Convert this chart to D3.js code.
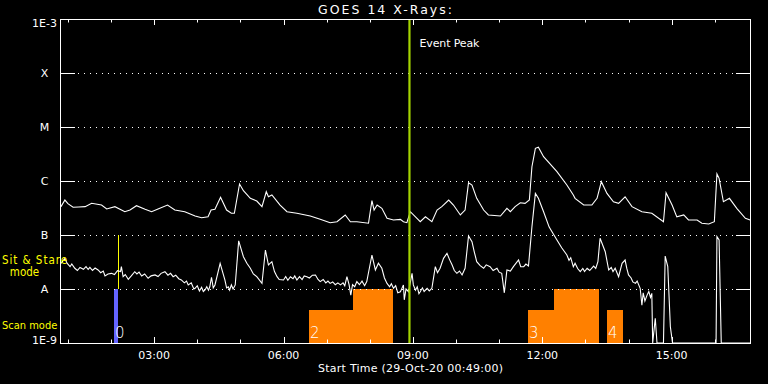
<!DOCTYPE html>
<html><head><meta charset="utf-8">
<script src="https://cdn.jsdelivr.net/npm/d3@7"></script>
<style>
body{margin:0;background:#000;}
svg{display:block;background:#000;}
text{font-family:"DejaVu Sans",sans-serif;fill:#fff;}
</style></head>
<body><svg id="chart" width="768" height="384"></svg>
<script>
// ---------- data ----------
const dayUTC = [2020, 9, 29];           // 29-Oct-20
const startHour = 0 + 49/60;            // 00:49
const endHour = startHour + 16;         // 16:49
const titleText = "GOES 14 X-Rays:";
const xAxisTitle = "Start Time (29-Oct-20 00:49:00)";
const xTickLabels = ["03:00","06:00","09:00","12:00","15:00"];
const yTickValues = [1e-9,1e-8,1e-7,1e-6,1e-5,1e-4,1e-3];
const yTickLabels = ["1E-9","A","B","C","M","X","1E-3"];
const eventPeakHour = 8.92;
const eventPeakLabel = "Event Peak";
const modeLabels = ["Sit & Stare", "mode", "Scan mode"];

// long channel (1-8 A): [hour of day UT, flux W/m^2]
const longChannel = [
[0.84,3.35e-7],[0.93,4.44e-7],[1.00,3.80e-7],[1.12,3.26e-7],[1.25,3.30e-7],[1.40,3.35e-7],[1.55,3.86e-7],[1.78,3.59e-7],[1.90,3.03e-7],
[2.09,3.35e-7],[2.32,2.70e-7],[2.44,2.90e-7],[2.59,3.49e-7],[2.79,2.99e-7],[2.94,2.70e-7],[3.09,3.03e-7],
[3.31,3.59e-7],[3.48,2.90e-7],[3.71,2.70e-7],[3.95,2.25e-7],[4.10,2.09e-7],[4.25,2.17e-7],[4.32,2.90e-7],
[4.41,2.99e-7],[4.54,4.98e-7],[4.68,2.90e-7],[4.79,2.52e-7],[4.86,2.52e-7],[4.98,8.79e-7],[5.07,6.61e-7],
[5.23,4.78e-7],[5.38,4.26e-7],[5.50,3.35e-7],[5.60,6.33e-7],[5.65,5.11e-7],[5.73,5.50e-7],[5.92,3.59e-7],
[6.08,2.70e-7],[6.31,2.52e-7],[6.62,2.25e-7],[6.85,1.95e-7],[7.08,1.69e-7],[7.24,1.76e-7],[7.43,2.35e-7],
[7.55,1.76e-7],[7.70,1.76e-7],[7.97,1.65e-7],[8.05,4.32e-7],[8.10,2.90e-7],[8.17,3.59e-7],[8.28,3.12e-7],
[8.40,2.04e-7],[8.55,1.90e-7],[8.71,1.95e-7],[8.78,1.76e-7],[8.86,1.69e-7],[8.94,2.70e-7],[9.17,1.76e-7],
[9.29,2.17e-7],[9.44,1.76e-7],[9.56,2.90e-7],[9.67,3.35e-7],[9.83,4.44e-7],[9.94,3.59e-7],[10.10,2.35e-7],
[10.21,2.90e-7],[10.29,9.30e-7],[10.37,8.42e-7],[10.48,4.78e-7],[10.64,2.90e-7],[10.75,2.35e-7],[11.03,2.25e-7],
[11.18,3.12e-7],[11.26,2.70e-7],[11.37,3.35e-7],[11.49,3.96e-7],[11.60,3.86e-7],[11.70,4.44e-7],[11.76,1.84e-6],
[11.84,4.03e-6],[11.91,4.21e-6],[12.03,2.82e-6],[12.34,1.49e-6],[12.57,8.42e-7],[12.72,5.50e-7],[12.76,4.78e-7],
[12.96,3.59e-7],[13.15,3.59e-7],[13.27,4.78e-7],[13.37,9.70e-7],[13.50,5.90e-7],[13.65,4.13e-7],[13.77,3.86e-7],
[13.92,5.11e-7],[14.08,3.35e-7],[14.31,2.70e-7],[14.54,2.52e-7],[14.81,1.76e-7],[14.87,6.08e-7],[15.01,3.59e-7],
[15.12,2.17e-7],[15.28,2.35e-7],[15.39,1.90e-7],[15.59,1.90e-7],[15.70,1.65e-7],[15.86,1.60e-7],[15.99,1.76e-7],
[16.05,1.35e-6],[16.10,1.12e-6],[16.20,4.13e-7],[16.34,4.78e-7],[16.51,3.12e-7],[16.71,2.04e-7],[16.82,1.90e-7]
];

// short channel (0.5-4 A): [hour of day UT, flux W/m^2]
const shortChannel = [
[0.84,2.99e-8],[0.93,3.70e-8],[0.98,3.00e-8],[1.05,2.59e-8],[1.09,2.90e-8],[1.16,2.42e-8],[1.22,2.20e-8],
[1.28,2.50e-8],[1.36,2.32e-8],[1.42,2.60e-8],[1.47,2.30e-8],[1.51,2.52e-8],[1.57,2.20e-8],[1.63,2.45e-8],
[1.70,2.25e-8],[1.76,2.00e-8],[1.82,2.15e-8],[1.86,1.74e-8],[1.93,1.90e-8],[2.01,1.95e-8],[2.08,1.85e-8],
[2.15,2.18e-8],[2.22,2.10e-8],[2.24,2.59e-8],[2.28,1.69e-8],[2.33,1.85e-8],[2.40,1.51e-8],[2.47,1.75e-8],
[2.55,2.09e-8],[2.60,1.90e-8],[2.65,2.05e-8],[2.71,1.74e-8],[2.78,1.90e-8],[2.86,1.58e-8],[2.93,1.75e-8],
[3.02,1.82e-8],[3.09,1.70e-8],[3.16,1.95e-8],[3.25,2.09e-8],[3.32,1.80e-8],[3.38,1.95e-8],[3.44,1.69e-8],
[3.50,1.80e-8],[3.57,1.55e-8],[3.63,1.47e-8],[3.70,1.30e-8],[3.75,1.40e-8],
[3.79,1.19e-8],[3.86,1.30e-8],[3.92,1.00e-8],[3.95,1.03e-8],[4.00,1.15e-8],[4.05,0.92e-8],[4.10,1.08e-8],
[4.14,0.90e-8],[4.18,0.96e-8],[4.22,1.10e-8],[4.26,0.95e-8],[4.29,1.10e-8],[4.33,1.65e-8],[4.37,1.05e-8],[4.41,1.19e-8],[4.53,2.99e-8],[4.64,1.47e-8],
[4.68,1.05e-8],[4.72,1.10e-8],[4.75,0.95e-8],[4.79,1.19e-8],[4.83,1.00e-8],[4.88,1.19e-8],[4.96,7.80e-8],[5.07,3.96e-8],[5.15,3.00e-8],[5.23,2.42e-8],[5.30,1.90e-8],[5.38,1.69e-8],
[5.50,1.27e-8],[5.58,5.27e-8],[5.65,2.78e-8],[5.73,3.20e-8],[5.79,2.10e-8],[5.85,1.69e-8],[5.90,1.50e-8],[6.00,1.47e-8],[6.05,1.70e-8],[6.10,1.45e-8],[6.16,1.69e-8],
[6.22,1.55e-8],[6.26,1.75e-8],[6.31,1.47e-8],[6.37,1.70e-8],[6.43,1.50e-8],[6.48,1.75e-8],[6.54,1.69e-8],[6.60,1.60e-8],[6.67,1.80e-8],[6.74,1.82e-8],[6.80,1.50e-8],[6.85,1.37e-8],
[6.92,1.50e-8],[6.98,1.30e-8],[7.03,1.40e-8],[7.08,1.27e-8],[7.14,1.35e-8],[7.20,1.20e-8],[7.26,1.30e-8],[7.32,1.19e-8],[7.38,1.30e-8],[7.42,1.15e-8],[7.47,1.69e-8],
[7.52,1.20e-8],[7.56,0.77e-8],[7.60,1.20e-8],[7.65,1.10e-8],[7.70,1.37e-8],[7.76,1.20e-8],[7.82,1.40e-8],[7.88,1.15e-8],[7.93,1.37e-8],[8.05,4.26e-8],[8.13,2.25e-8],[8.20,3.00e-8],[8.28,2.42e-8],[8.34,1.60e-8],[8.40,1.27e-8],
[8.46,1.10e-8],[8.50,1.25e-8],[8.55,1.03e-8],[8.60,1.15e-8],[8.65,0.85e-8],[8.71,0.89e-8],[8.75,1.05e-8],[8.78,1.19e-8],[8.80,0.63e-8],[8.84,1.00e-8],[8.90,0.89e-8],[8.98,1.95e-8],[9.01,1.19e-8],
[9.06,0.95e-8],[9.10,1.10e-8],[9.14,0.82e-8],[9.17,0.89e-8],[9.22,1.05e-8],[9.26,0.90e-8],[9.33,1.03e-8],[9.38,0.92e-8],[9.44,1.03e-8],[9.52,2.59e-8],[9.57,2.00e-8],[9.63,2.42e-8],[9.71,3.70e-8],[9.79,4.58e-8],
[9.85,3.50e-8],[9.91,2.78e-8],[9.96,2.20e-8],[10.02,1.95e-8],[10.08,2.15e-8],[10.14,1.82e-8],[10.21,2.42e-8],[10.29,9.60e-8],[10.37,7.50e-8],[10.42,5.00e-8],[10.48,3.20e-8],
[10.56,2.70e-8],[10.64,2.42e-8],[10.70,2.80e-8],[10.79,2.59e-8],[10.86,2.20e-8],[10.95,2.42e-8],[11.00,2.05e-8],[11.06,1.95e-8],[11.12,0.85e-8],[11.18,2.25e-8],[11.26,2.15e-8],[11.33,2.59e-8],
[11.45,3.44e-8],[11.50,2.60e-8],[11.57,2.59e-8],[11.62,2.90e-8],[11.68,2.66e-8],[11.76,1.42e-7],[11.84,5.90e-7],[11.91,4.78e-7],[12.03,2.70e-7],
[12.16,1.40e-7],[12.34,8.07e-8],[12.45,5.80e-8],[12.57,4.26e-8],[12.62,3.40e-8],[12.66,3.80e-8],[12.72,2.59e-8],[12.76,3.00e-8],[12.82,2.40e-8],[12.88,2.09e-8],[12.94,2.40e-8],[12.98,2.10e-8],[13.04,2.42e-8],[13.10,2.20e-8],[13.19,2.66e-8],[13.24,2.40e-8],[13.29,3.20e-8],
[13.34,8.70e-8],[13.46,4.90e-8],[13.54,2.25e-8],[13.60,2.50e-8],[13.64,2.10e-8],[13.69,2.42e-8],[13.77,1.69e-8],[13.85,2.99e-8],[13.92,3.44e-8],[13.96,2.40e-8],
[14.00,1.82e-8],[14.06,1.60e-8],[14.10,1.35e-8],[14.16,1.27e-8],[14.20,1.40e-8],[14.27,1.03e-8],[14.31,0.50e-8],[14.34,0.85e-8],[14.38,0.60e-8],[14.43,0.77e-8],
[14.47,0.90e-8],[14.51,0.70e-8],[14.54,0.83e-8],[14.56,5e-10],[14.62,2.87e-9],[14.66,5e-10],[14.81,5e-10],
[14.85,4.08e-8],[14.91,2.59e-8],[14.97,2.0e-9],[15.02,5e-10],[16.03,5e-10],[16.05,9.30e-8],[16.10,8.07e-8],
[16.15,5e-10],[16.82,5e-10]
];

// observing-mode blocks: [start hour, end hour, level]
const scanIds = ["0","2","3","4"];
const scanSteps = [
  [[2.06,2.15,1e-8]],
  [[6.60,7.62,4.1e-9],[7.62,8.54,1e-8]],
  [[11.67,12.28,4.1e-9],[12.28,13.32,1e-8]],
  [[13.51,13.88,4.1e-9]]
];
const stareHours = [2.15];

// ---------- drawing ----------
const svg = d3.select("#chart");
const toDate = h => new Date(Date.UTC(dayUTC[0], dayUTC[1], dayUTC[2]) + h * 3600e3);
const L = 60, R = 750, T = 19, B = 343;
const x = d3.scaleUtc().domain([toDate(startHour), toDate(endHour)]).range([L, R]);
const y = d3.scaleLog().domain([1e-9, 1e-3]).range([B, T]).clamp(true);
const px = v => Math.round(v) + 0.5;

const blockColor = d3.scaleOrdinal().domain(scanIds).range(["#6464ff","#ff8000","#ff8000","#ff8000"]);

// mode blocks
scanIds.forEach((id, i) => {
  const g = svg.append("g");
  scanSteps[i].forEach(s => {
    g.append("rect")
      .attr("x", Math.round(x(toDate(s[0]))))
      .attr("width", Math.round(x(toDate(s[1]))) - Math.round(x(toDate(s[0]))))
      .attr("y", Math.round(y(s[2])))
      .attr("height", B - Math.round(y(s[2])))
      .attr("fill", blockColor(id));
  });
  g.append("text")
    .attr("x", Math.round(x(toDate(scanSteps[i][0][0]))) + 1)
    .attr("y", 338)
    .attr("font-family", "Liberation Sans, sans-serif")
    .attr("font-size", 15)
    .attr("font-weight", 300)
    .text(id);
});

// stare markers
stareHours.forEach(h => {
  svg.append("line")
    .attr("x1", px(x(toDate(h)))).attr("x2", px(x(toDate(h))))
    .attr("y1", y(1e-7)).attr("y2", y(1e-8))
    .attr("stroke", "#ffff00").attr("stroke-width", 1);
});

// grid dotted lines
yTickValues.slice(1, -1).forEach(v => {
  svg.append("line")
    .attr("x1", 78).attr("x2", 736)
    .attr("y1", px(y(v))).attr("y2", px(y(v)))
    .attr("stroke", "#fff").attr("stroke-dasharray", "1,5");
  svg.append("line").attr("x1", L).attr("x2", 75).attr("y1", px(y(v))).attr("y2", px(y(v))).attr("stroke", "#fff");
  svg.append("line").attr("x1", 736).attr("x2", R).attr("y1", px(y(v))).attr("y2", px(y(v))).attr("stroke", "#fff");
});

// y labels
yTickValues.forEach((v, i) => {
  let cy = y(v);
  if (i === yTickValues.length - 1) cy += 4;
  if (i === 0) cy -= 3;
  svg.append("text")
    .attr("x", 44.5).attr("y", cy + 4)
    .attr("text-anchor", "middle")
    .attr("font-size", 11)
    .text(yTickLabels[i]);
});

// curves
const line = d3.line().x(d => x(toDate(d[0]))).y(d => y(d[1]));
svg.append("path").datum(longChannel).attr("d", line)
  .attr("fill", "none").attr("stroke", "#fff").attr("stroke-width", 1.1);
svg.append("path").datum(shortChannel).attr("d", line)
  .attr("fill", "none").attr("stroke", "#fff").attr("stroke-width", 1.1);

// event peak line
svg.append("line")
  .attr("x1", x(toDate(eventPeakHour))).attr("x2", x(toDate(eventPeakHour)))
  .attr("y1", T).attr("y2", B)
  .attr("stroke", "#a4d400").attr("stroke-width", 2.2);
svg.append("text")
  .attr("x", x(toDate(eventPeakHour)) + 10).attr("y", 47)
  .attr("font-size", 11).attr("textLength", 60).attr("lengthAdjust", "spacing")
  .text(eventPeakLabel);

// x ticks
const hours = d3.utcHour.range(x.domain()[0], x.domain()[1]);
hours.forEach(d => {
  const major = d.getUTCHours() % 3 === 0;
  const len = major ? 6 : 3.5;
  const xx = px(x(d));
  svg.append("line").attr("x1", xx).attr("x2", xx).attr("y1", T).attr("y2", T + len).attr("stroke", "#fff");
  svg.append("line").attr("x1", xx).attr("x2", xx).attr("y1", B).attr("y2", B - len).attr("stroke", "#fff");
});
xTickLabels.forEach(lbl => {
  const [hh, mm] = lbl.split(":").map(Number);
  svg.append("text")
    .attr("x", x(toDate(hh + mm / 60))).attr("y", 359)
    .attr("text-anchor", "middle").attr("font-size", 11)
    .text(lbl);
});

// frame
svg.append("rect").attr("x", L + 0.5).attr("y", T + 0.5)
  .attr("width", R - L).attr("height", B - T)
  .attr("fill", "none").attr("stroke", "#fff");

// titles
svg.append("text").attr("x", 318).attr("y", 14)
  .attr("font-size", 12.5).attr("textLength", 134).attr("lengthAdjust", "spacing")
  .text(titleText);
svg.append("text").attr("x", 318).attr("y", 372)
  .attr("font-size", 11).attr("textLength", 185).attr("lengthAdjust", "spacing")
  .text(xAxisTitle);

// mode labels
const modeFont = "DejaVu Sans Condensed, DejaVu Sans, sans-serif";
svg.append("text").attr("x", 2).attr("y", 263.5).style("fill", "#ffff00").style("font-family", modeFont)
  .attr("font-size", 11.5).attr("textLength", 65).attr("lengthAdjust", "spacing").text(modeLabels[0]);
svg.append("text").attr("x", 24.5).attr("y", 276).attr("text-anchor", "middle").style("fill", "#ffff00").style("font-family", modeFont)
  .attr("font-size", 11.5).text(modeLabels[1]);
svg.append("text").attr("x", 2).attr("y", 328.5).style("fill", "#ffff00").style("font-family", modeFont)
  .attr("font-size", 11).text(modeLabels[2]);
</script>
</body></html>
